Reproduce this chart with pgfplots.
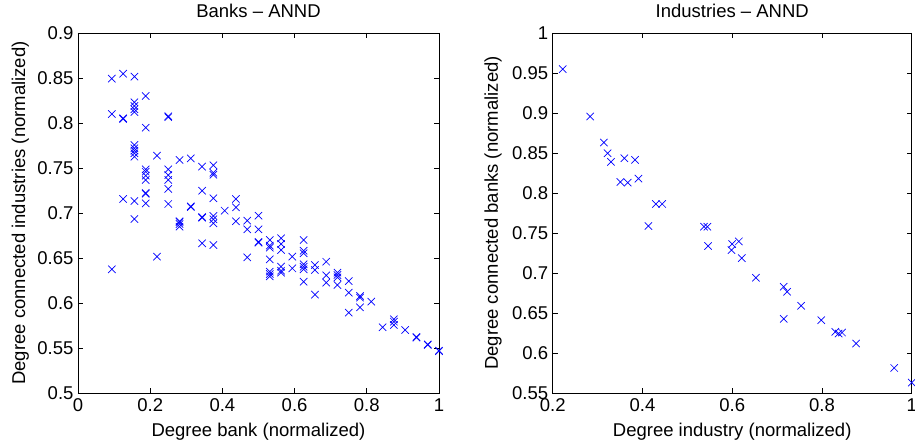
\documentclass[border=0pt]{standalone}
\usepackage{fontspec}
\setmainfont{Liberation Sans}
\usepackage{pgfplots}
\pgfplotsset{compat=1.18}
\definecolor{mblue}{RGB}{0,0,255}
\newcommand{\ff}{\fontsize{18.5}{22}\selectfont}
\pgfplotsset{
  mystyle/.style={
    scale only axis,
    height=360pt,
    font=\ff,
    /pgf/number format/assume math mode=true,
    /pgf/number format/.cd, fixed, precision=2, /pgfplots/.cd,
    tick align=inside,
    major tick length=5pt,
    axis line style={line width=0.8pt},
    every tick/.style={black, line width=0.8pt},
    tick label style={font=\ff},
    yticklabel style={xshift=-1pt},
    xticklabel style={yshift=-2pt},
    title style={at={(axis description cs:0.5,1.025)}, anchor=base, font=\ff},
    xlabel style={at={(axis description cs:0.5,-0.1222)}, anchor=base, font=\ff},
  }
}
\begin{document}
\begin{tikzpicture}
\useasboundingbox (0pt,0pt) rectangle (915pt,446pt);
\begin{axis}[mystyle,
  at={(78pt,53pt)}, anchor=south west, width=361pt,
  xmin=0, xmax=1, ymin=0.5, ymax=0.9,
  xtick={0,0.2,0.4,0.6,0.8,1},
  ytick={0.5,0.55,0.6,0.65,0.7,0.75,0.8,0.85,0.9},
  title={Banks -- ANND},
  xlabel={Degree bank (normalized)},
  ylabel={Degree connected industries (normalized)},
  ylabel style={at={(axis description cs:-0.1468,0.5)}, anchor=base, font=\ff},
]
\addplot[only marks, mark=x, mark size=5.2pt, color=mblue, mark options={line width=0.7pt}] table {
x y
0.09375 0.8493
0.09375 0.8100
0.09375 0.6374
0.125 0.8548
0.125 0.8052
0.125 0.8045
0.125 0.7156
0.15625 0.8515
0.15625 0.8230
0.15625 0.8189
0.15625 0.8152
0.15625 0.8122
0.15625 0.7756
0.15625 0.7719
0.15625 0.7693
0.15625 0.7663
0.15625 0.7626
0.15625 0.7133
0.15625 0.6933
0.1875 0.8300
0.1875 0.7948
0.1875 0.7485
0.1875 0.7459
0.1875 0.7415
0.1875 0.7367
0.1875 0.7222
0.1875 0.7214
0.1875 0.7107
0.21875 0.7637
0.21875 0.6515
0.25 0.8075
0.25 0.8065
0.25 0.7485
0.25 0.7422
0.25 0.7367
0.25 0.7267
0.25 0.7100
0.28125 0.7589
0.28125 0.6908
0.28125 0.6900
0.28125 0.6878
0.28125 0.6848
0.3125 0.7607
0.3125 0.7074
0.3125 0.7066
0.34375 0.7515
0.34375 0.7248
0.34375 0.6955
0.34375 0.6948
0.34375 0.6663
0.375 0.7530
0.375 0.7448
0.375 0.7425
0.375 0.7163
0.375 0.6967
0.375 0.6930
0.375 0.6885
0.375 0.6644
0.40625 0.7026
0.4375 0.7156
0.4375 0.7063
0.4375 0.6908
0.46875 0.6915
0.46875 0.6819
0.46875 0.6507
0.5 0.6970
0.5 0.6819
0.5 0.6678
0.5 0.6670
0.53125 0.6700
0.53125 0.6637
0.53125 0.6615
0.53125 0.6485
0.53125 0.6348
0.53125 0.6322
0.53125 0.6296
0.5625 0.6719
0.5625 0.6656
0.5625 0.6589
0.5625 0.6404
0.5625 0.6359
0.5625 0.6337
0.59375 0.6515
0.59375 0.6385
0.625 0.6700
0.625 0.6581
0.625 0.6552
0.625 0.6430
0.625 0.6404
0.625 0.6374
0.625 0.6237
0.65625 0.6422
0.65625 0.6367
0.65625 0.6093
0.6875 0.6459
0.6875 0.6307
0.6875 0.6226
0.71875 0.6337
0.71875 0.6311
0.71875 0.6285
0.71875 0.6200
0.75 0.6244
0.75 0.6115
0.75 0.5893
0.78125 0.6078
0.78125 0.6060
0.78125 0.5952
0.8125 0.6015
0.84375 0.5730
0.875 0.5819
0.875 0.5793
0.875 0.5756
0.90625 0.5700
0.9375 0.5622
0.9375 0.5615
0.96875 0.5540
0.96875 0.5534
1 0.5470
1 0.5464
};
\end{axis}
\begin{axis}[mystyle,
  at={(552.7pt,53pt)}, anchor=south west, width=359pt,
  xmin=0.2, xmax=1, ymin=0.55, ymax=1,
  xtick={0.2,0.4,0.6,0.8,1},
  ytick={0.55,0.6,0.65,0.7,0.75,0.8,0.85,0.9,0.95,1},
  title={Industries -- ANND},
  xlabel={Degree industry (normalized)},
  ylabel={Degree connected banks (normalized)},
  ylabel style={at={(axis description cs:-0.1524,0.5)}, anchor=base, font=\ff},
]
\addplot[only marks, mark=x, mark size=5.2pt, color=mblue, mark options={line width=0.7pt}] table {
x y
0.2223 0.9549
0.2835 0.8956
0.3141 0.8631
0.3223 0.8497
0.3298 0.8389
0.3507 0.8138
0.3596 0.8435
0.3671 0.8130
0.3835 0.8414
0.3910 0.8180
0.4133 0.7587
0.4298 0.7863
0.4440 0.7863
0.5372 0.7579
0.5447 0.7579
0.5462 0.7337
0.5984 0.7287
0.5999 0.7362
0.6148 0.7395
0.6215 0.7186
0.6529 0.6940
0.7148 0.6828
0.7223 0.6765
0.7148 0.6427
0.7536 0.6590
0.7984 0.6410
0.8297 0.6264
0.8372 0.6243
0.8447 0.6256
0.8760 0.6118
0.9610 0.5813
1.0000 0.5630
};
\end{axis}
\end{tikzpicture}
\end{document}
